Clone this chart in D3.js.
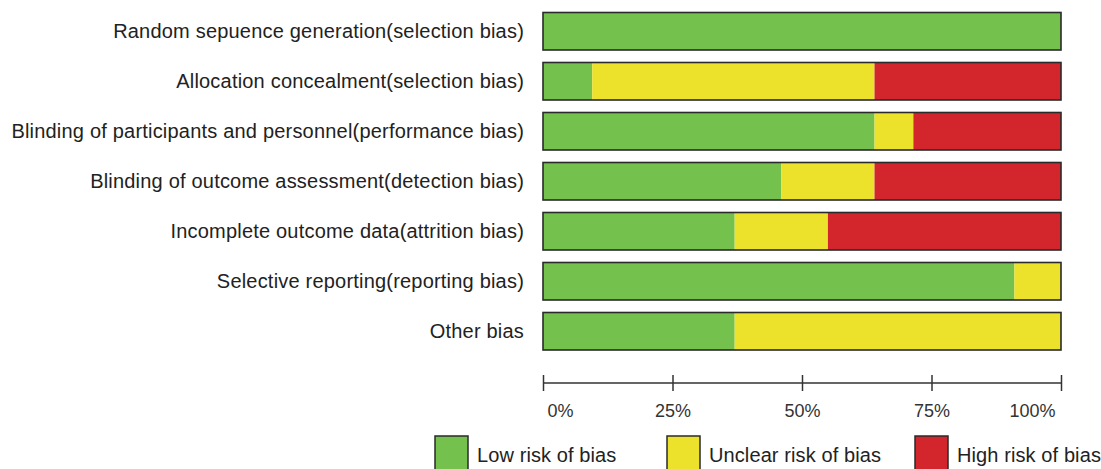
<!DOCTYPE html>
<html>
<head>
<meta charset="utf-8">
<script src="https://cdn.jsdelivr.net/npm/d3@7"></script>
<style>
  body { margin: 0; background: #fff; }
  svg { display: block; }
</style>
</head>
<body>
<script>
// risk of bias summary, stacked 100% bars

const domains = [
  "Random sepuence generation(selection bias)",
  "Allocation concealment(selection bias)",
  "Blinding of participants and personnel(performance bias)",
  "Blinding of outcome assessment(detection bias)",
  "Incomplete outcome data(attrition bias)",
  "Selective reporting(reporting bias)",
  "Other bias"
];
const lowRisk     = [100, 9.5, 64, 46, 37, 91, 37];
const unclearRisk = [0, 54.5, 7.5, 18, 18, 9, 63];
const highRisk    = [0, 36, 28.5, 36, 45, 0, 0];

const riskKeys = ["low", "unclear", "high"];
const riskNames = ["Low risk of bias", "Unclear risk of bias", "High risk of bias"];
const ticks = [0, 25, 50, 75, 100];

const width = 1101, height = 469;
const font = "'Liberation Sans', Arial, sans-serif";

const colour = d3.scaleOrdinal()
  .domain(riskKeys)
  .range(["#75c14d", "#ece12b", "#d2262c"]);

const rows = domains.map((d, i) => ({
  domain: d, low: lowRisk[i], unclear: unclearRisk[i], high: highRisk[i]
}));

const stack = d3.stack().keys(riskKeys)(rows);

const x = d3.scaleLinear().domain([0, 100]).range([543, 1061]);
const y = d3.scaleBand().domain(domains).range([12.5, 350]).paddingInner(0.25);

const svg = d3.select("body").append("svg")
  .attr("width", width)
  .attr("height", height);

// bar segments
svg.append("g")
  .selectAll("g")
  .data(stack)
  .join("g")
    .attr("fill", d => colour(d.key))
  .selectAll("rect")
  .data(d => d.filter(s => s[1] - s[0] > 0))
  .join("rect")
    .attr("x", d => x(d[0]))
    .attr("y", d => y(d.data.domain))
    .attr("width", d => x(d[1]) - x(d[0]))
    .attr("height", y.bandwidth());

// outline round each bar
svg.append("g")
  .selectAll("rect")
  .data(domains)
  .join("rect")
    .attr("x", x(0))
    .attr("y", d => y(d))
    .attr("width", x(100) - x(0))
    .attr("height", y.bandwidth())
    .attr("fill", "none")
    .attr("stroke", "#2a2a2a")
    .attr("stroke-width", 1.6);

// category labels
svg.append("g")
  .selectAll("text")
  .data(domains)
  .join("text")
    .attr("x", 524)
    .attr("y", d => y(d) + y.bandwidth() / 2)
    .attr("dy", "0.35em")
    .attr("text-anchor", "end")
    .style("font-family", font)
    .style("font-size", "20px")
    .style("letter-spacing", "0.2px")
    .style("fill", "#222")
    .text(d => d);

// axis
const axis = svg.append("g")
  .attr("transform", "translate(0,383)")
  .call(d3.axisBottom(x).tickValues(ticks).tickSize(8).tickSizeOuter(0).tickFormat(d => d + "%"));

axis.select(".domain").attr("stroke", "#333").attr("stroke-width", 1.5).attr("d", `M${x(0)},0H${x(100)}`);
axis.selectAll(".tick line").attr("y1", -8).attr("y2", 8).attr("stroke", "#333").attr("stroke-width", 1.5);
axis.selectAll(".tick text")
  .attr("y", 21)
  .attr("dy", "0.71em")
  .style("font-family", font)
  .style("font-size", "18px")
  .style("fill", "#333")
  .attr("text-anchor", d => d === 0 ? "start" : d === 100 ? "end" : "middle")
  .attr("dx", d => d === 0 ? 4 : d === 100 ? -6 : 0);

// legend
const legendX = [435, 667, 915];
const legend = svg.append("g")
  .selectAll("g")
  .data(riskKeys)
  .join("g")
    .attr("transform", (d, i) => `translate(${legendX[i]},436)`);

legend.append("rect")
  .attr("width", 33)
  .attr("height", 40)
  .attr("fill", d => colour(d))
  .attr("stroke", "#2a2a2a")
  .attr("stroke-width", 1.5);

legend.append("text")
  .attr("x", 42)
  .attr("y", 26)
  .style("font-family", font)
  .style("font-size", "20px")
  .style("letter-spacing", "0.1px")
  .style("fill", "#222")
  .text((d, i) => riskNames[i]);
</script>
</body>
</html>
